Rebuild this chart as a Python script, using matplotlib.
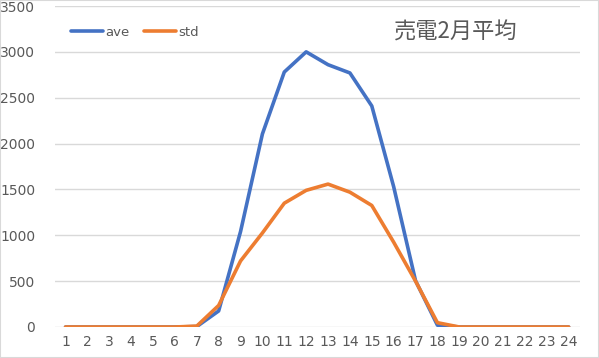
import matplotlib
matplotlib.use("Agg")
import matplotlib.pyplot as plt
from matplotlib.patches import Rectangle

hours = list(range(1, 25))
ave = [0, 0, 0, 0, 0, 0, 5, 175, 1040, 2105, 2780, 3000, 2860, 2770, 2410, 1530, 505, 20,
       0, 0, 0, 0, 0, 0]
std = [0, 0, 0, 0, 0, 0, 10, 235, 720, 1025, 1350, 1490, 1558, 1470, 1325, 925, 500, 47,
       0, 0, 0, 0, 0, 0]
title = "売電2月平均"

plt.rcParams['font.family'] = ['Noto Sans CJK JP', 'DejaVu Sans']

fig = plt.figure(figsize=(5.99, 3.58), dpi=100)
ax = fig.add_axes([54.6 / 599, 31 / 358, 525 / 599, 321 / 358])

ax.plot(hours, ave, color="#4472C4", lw=2.6, label="ave", solid_capstyle="round")
ax.plot(hours, std, color="#ED7D31", lw=2.6, label="std", solid_capstyle="round")

ax.set_xlim(0.5, 24.5)
ax.set_ylim(0, 3500)
ax.set_yticks(range(0, 3501, 500))
ax.set_xticks(hours)
ax.yaxis.grid(True, color="#D9D9D9", lw=1)
ax.set_axisbelow(True)
for s in ax.spines.values():
    s.set_visible(False)
ax.tick_params(length=0, labelsize=10, colors="#595959", pad=6)
ax.tick_params(axis="y", pad=14)
for lbl in ax.get_xticklabels() + ax.get_yticklabels():
    lbl.set_family(['DejaVu Sans'])

leg = ax.legend(loc="center left", bbox_to_anchor=(0.031, 0.919), ncol=2, frameon=False,
                handlelength=2.4, handletextpad=0.2, columnspacing=1.1,
                borderpad=0, borderaxespad=0,
                prop={'family': 'DejaVu Sans', 'size': 9.5})
for t in leg.get_texts():
    t.set_color("#595959")

fig.text(456 / 599, 1 - 32 / 358, title, ha="center", va="center", fontsize=16,
         color="#595959")

fig.patches.append(Rectangle((0, 0), 1, 1, transform=fig.transFigure, fill=False,
                             edgecolor="#D9D9D9", lw=1.5))

fig.savefig("out.png", dpi=100)
